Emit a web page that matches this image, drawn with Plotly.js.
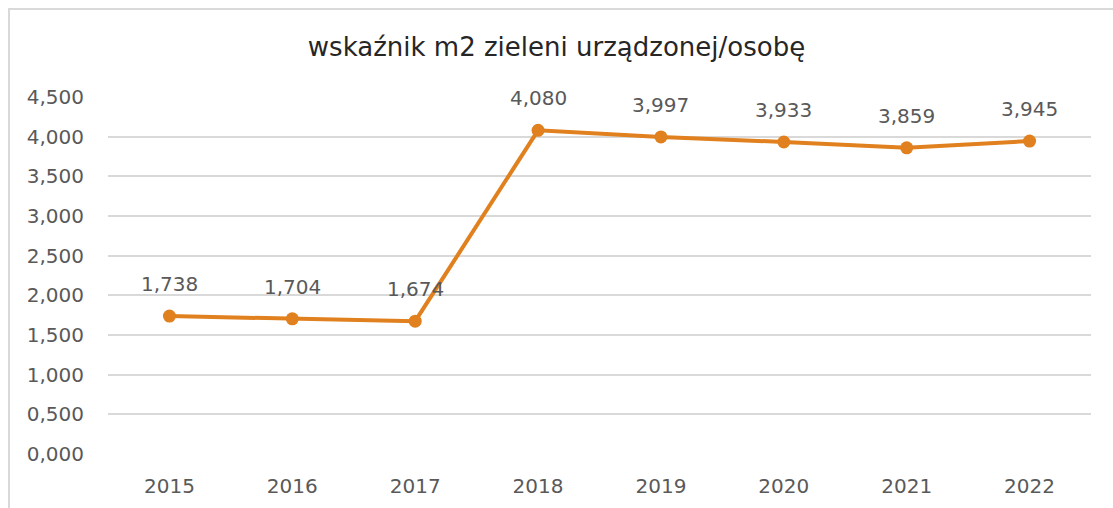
<!DOCTYPE html>
<html>
<head>
<meta charset="utf-8">
<script src="https://cdn.plot.ly/plotly-3.0.1.min.js"></script>
<style>
html,body{margin:0;padding:0;background:#fff;overflow:hidden;}
#frame{position:absolute;left:8px;top:8px;width:1130px;height:530px;border:2px solid #d9d9d9;box-sizing:border-box;}
#chart{position:absolute;left:0;top:0;width:1113px;height:508px;}
</style>
</head>
<body>
<div id="frame"></div>
<div id="chart"></div>
<script>
const years = ['2015','2016','2017','2018','2019','2020','2021','2022'];
const values = [1.738, 1.704, 1.674, 4.080, 3.997, 3.933, 3.859, 3.945];
const yTicks = [0, 0.5, 1, 1.5, 2, 2.5, 3, 3.5, 4, 4.5];

const orange = '#E0801E';
const grey = '#595959';
const font = 'DejaVu Sans, sans-serif';
const idx = years.map((_, i) => i);

const trace = {
  x: idx, y: values, type: 'scatter', mode: 'lines+markers',
  line: {color: orange, width: 4},
  marker: {color: orange, size: 13},
  hoverinfo: 'skip'
};

const fmt = v => v.toFixed(3).replace('.', ',');
const annotations = idx.map(i => ({
  x: i, y: values[i], xref: 'x', yref: 'y', text: fmt(values[i]), showarrow: false,
  yshift: 32, font: {family: font, size: 20, color: grey}
}));

const layout = {
  width: 1113, height: 508,
  margin: {l: 107.5, r: 21.5, t: 97, b: 54},
  paper_bgcolor: 'rgba(0,0,0,0)', plot_bgcolor: 'rgba(0,0,0,0)',
  separators: ',.',
  showlegend: false,
  title: {text: 'wskaźnik m2 zieleni urządzonej/osobę', x: 0.5, xanchor: 'center', y: 1 - 47/508, yanchor: 'middle',
          font: {family: font, size: 26, color: '#262626'}},
  xaxis: {range: [-0.5, 7.5], tickvals: idx, ticktext: years, showgrid: false, zeroline: false, showline: false, ticks: '',
          tickfont: {family: font, size: 20, color: grey}, ticklabelstandoff: 18, fixedrange: true},
  yaxis: {range: [0, 4.5], tickvals: yTicks, tickformat: '.3f', showgrid: true, gridcolor: '#d9d9d9', gridwidth: 2,
          zeroline: false, showline: false, ticks: '', ticklabelstandoff: 23,
          tickfont: {family: font, size: 20, color: grey}, fixedrange: true},
  annotations: annotations
};

Plotly.newPlot('chart', [trace], layout, {displayModeBar: false, staticPlot: true});
</script>
</body>
</html>
